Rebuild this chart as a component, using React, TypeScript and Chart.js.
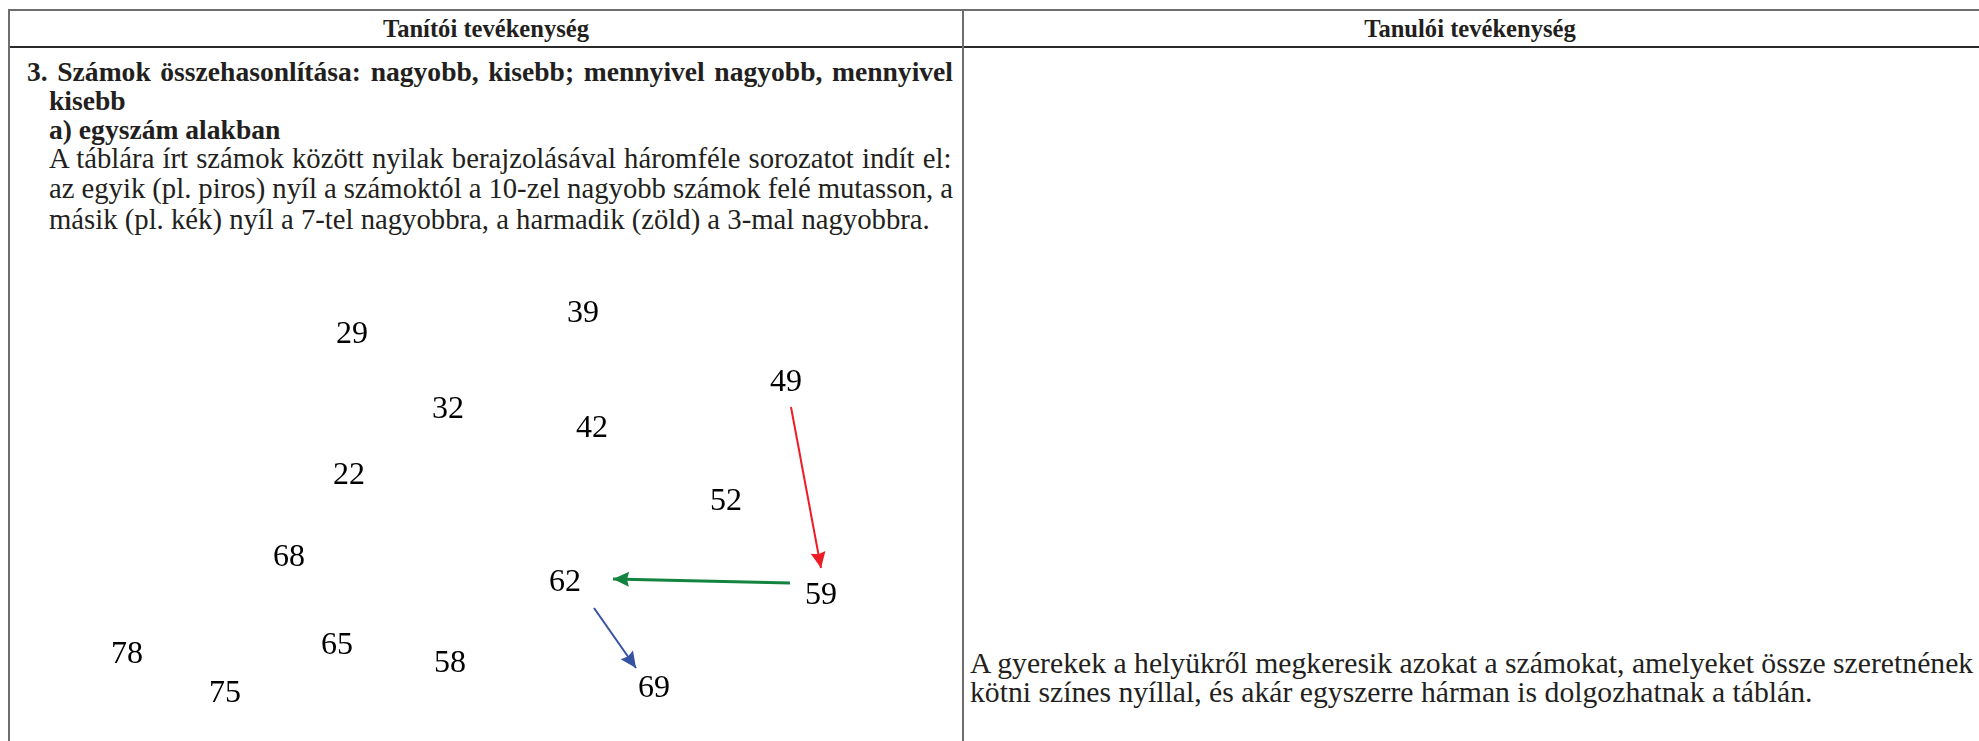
import React, { useEffect, useRef } from "react";
import { Chart, registerables } from "chart.js";

Chart.register(...registerables);

// ---- Data: numbers written on the board and where they sit (board units) ----
const boardNumbers = [29, 39, 49, 32, 42, 22, 52, 68, 62, 59, 78, 65, 58, 69, 75];
const boardX = [352, 583, 786, 448, 592, 349, 726, 289, 565, 821, 127, 337, 450, 654, 225];
const boardY = [333, 312, 381, 408, 427, 474, 500, 556, 581, 594, 653, 644, 662, 687, 692];

// ---- Arrows drawn between numbers (49 -> 59 red, 59 -> 62 green, 62 -> 69 blue) ----
const arrowNames = ["piros (+10)", "zöld (+3)", "kék (+7)"];
const arrowFromX = [791, 790, 594];
const arrowFromY = [407, 583, 608];
const arrowToX = [821, 613, 636];
const arrowToY = [568, 579, 668];
const arrowColors = ["#ee1c25", "#13843f", "#3552a3"];
const arrowWidths = [2, 3, 2];

// ---- Table texts ----
const headerLeft = "Tanítói tevékenység";
const headerRight = "Tanulói tevékenység";
const leftBold = [
  "3. Számok összehasonlítása: nagyobb, kisebb; mennyivel nagyobb, mennyivel",
  "kisebb",
  "a) egyszám alakban",
];
const leftNormal = [
  "A táblára írt számok között nyilak berajzolásával háromféle sorozatot indít el:",
  "az egyik (pl. piros) nyíl a számoktól a 10-zel nagyobb számok felé mutasson, a",
  "másik (pl. kék) nyíl a 7-tel nagyobbra, a harmadik (zöld) a 3-mal nagyobbra.",
];
const rightNormal = [
  "A gyerekek a helyükről megkeresik azokat a számokat, amelyeket össze szeretnének",
  "kötni színes nyíllal, és akár egyszerre hárman is dolgozhatnak a táblán.",
];

const FAMILY = "'Liberation Serif', 'Times New Roman', serif";
const TEXT_COLOR = "#231f20";

let measureCtx: CanvasRenderingContext2D | null = null;
function measure(text: string, weight: string, size: number): number {
  if (!measureCtx) measureCtx = document.createElement("canvas").getContext("2d");
  if (!measureCtx) return text.length * size * 0.45;
  measureCtx.font = `${weight} ${size}px ${FAMILY}`;
  return measureCtx.measureText(text).width;
}
function fitSize(text: string, weight: string, target: number): number {
  return (100 * target) / measure(text, weight, 100);
}
function justify(text: string, weight: string, size: number, target: number): number {
  const spaces = (text.match(/ /g) || []).length;
  if (!spaces) return 0;
  return (target - measure(text, weight, size)) / spaces;
}

function Line(props: {
  text: string;
  x: number;
  baseline: number;
  size: number;
  bold?: boolean;
  center?: boolean;
  wordSpacing?: number;
}) {
  const { text, x, baseline, size, bold, center, wordSpacing } = props;
  return (
    <div
      style={{
        position: "absolute",
        left: x,
        top: baseline - 0.8375 * size,
        fontSize: size,
        lineHeight: `${size}px`,
        fontFamily: FAMILY,
        fontWeight: bold ? 700 : 400,
        color: TEXT_COLOR,
        whiteSpace: "pre",
        wordSpacing: wordSpacing ? `${wordSpacing}px` : undefined,
        transform: center ? "translateX(-50%)" : undefined,
      }}
    >
      {text}
    </div>
  );
}

const boardPlugin = {
  id: "boardPlugin",
  afterDatasetsDraw(chart: any) {
    const ctx = chart.ctx as CanvasRenderingContext2D;
    // arrow heads
    for (let d = 1; d < chart.data.datasets.length; d++) {
      const meta = chart.getDatasetMeta(d);
      const pts = meta.data;
      if (!pts || pts.length < 2) continue;
      const a = pts[0];
      const b = pts[pts.length - 1];
      const ang = Math.atan2(b.y - a.y, b.x - a.x);
      const color = chart.data.datasets[d].borderColor;
      ctx.save();
      ctx.translate(b.x, b.y);
      ctx.rotate(ang);
      ctx.beginPath();
      ctx.moveTo(0, 0);
      ctx.lineTo(-16, 7.5);
      ctx.lineTo(-14, 0);
      ctx.lineTo(-16, -7.5);
      ctx.closePath();
      ctx.fillStyle = color;
      ctx.fill();
      ctx.restore();
    }
    // number labels
    const meta0 = chart.getDatasetMeta(0);
    ctx.save();
    ctx.font = `32px ${FAMILY}`;
    ctx.fillStyle = "#000";
    ctx.textAlign = "center";
    ctx.textBaseline = "alphabetic";
    meta0.data.forEach((el: any, i: number) => {
      ctx.fillText(String(boardNumbers[i]), el.x, el.y + 10);
    });
    ctx.restore();
  },
};

export default function App() {
  const ref = useRef<HTMLCanvasElement>(null);

  useEffect(() => {
    if (!ref.current) return;
    const datasets: any[] = [
      {
        label: "számok",
        data: boardNumbers.map((_, i) => ({ x: boardX[i], y: boardY[i] })),
        pointRadius: 0,
        pointHoverRadius: 0,
        showLine: false,
      },
    ];
    arrowNames.forEach((name, i) => {
      datasets.push({
        label: name,
        data: [
          { x: arrowFromX[i], y: arrowFromY[i] },
          { x: arrowToX[i], y: arrowToY[i] },
        ],
        showLine: true,
        borderColor: arrowColors[i],
        backgroundColor: arrowColors[i],
        borderWidth: arrowWidths[i],
        pointRadius: 0,
        pointHoverRadius: 0,
        fill: false,
      });
    });
    const chart = new Chart(ref.current, {
      type: "scatter",
      data: { datasets },
      options: {
        animation: false,
        responsive: false,
        events: [],
        layout: { padding: 0 },
        plugins: {
          legend: { display: false },
          tooltip: { enabled: false },
          title: { display: false },
        },
        scales: {
          x: { type: "linear", min: 0, max: 1979, display: false },
          y: { type: "linear", min: 0, max: 741, reverse: true, display: false },
        },
      },
      plugins: [boardPlugin],
    });
    return () => chart.destroy();
  }, []);

  const firstX = 27;
  const indentX = 49;
  const rightEdge = 953;
  const rightX = 970;
  const rightCellEdge = 1975;

  const headSize = fitSize(headerLeft, "700", 206);
  const boldSize = fitSize(leftBold[0], "700", rightEdge - firstX) * 0.98;
  const boldWs = justify(leftBold[0], "700", boldSize, rightEdge - firstX);
  const normSize = fitSize(leftNormal[2], "400", 930 - indentX);
  const normWs = [
    justify(leftNormal[0], "400", normSize, rightEdge - indentX),
    justify(leftNormal[1], "400", normSize, rightEdge - indentX),
    0,
  ];
  const rightSize = fitSize(rightNormal[0], "400", rightCellEdge - rightX);

  const leftBaselines = [81, 110, 139];
  const normBaselines = [168, 198, 229];
  const rightBaselines = [674, 703];

  return (
    <div
      style={{
        position: "absolute",
        left: 0,
        top: 0,
        width: 1979,
        height: 741,
        overflow: "hidden",
        background: "#ffffff",
      }}
    >
      {/* table rules */}
      <div style={{ position: "absolute", left: 8, right: 0, top: 9, height: 2, background: "#6e6e6e" }} />
      <div style={{ position: "absolute", left: 8, right: 0, top: 46, height: 2, background: "#2a2a2a" }} />
      <div style={{ position: "absolute", left: 8, width: 2, top: 9, bottom: 0, background: "#6e6e6e" }} />
      <div style={{ position: "absolute", left: 962, width: 2, top: 9, bottom: 0, background: "#6e6e6e" }} />

      <Line text={headerLeft} x={486} baseline={38} size={headSize} bold center />
      <Line text={headerRight} x={1470} baseline={38} size={headSize} bold center />

      <Line text={leftBold[0]} x={firstX} baseline={leftBaselines[0]} size={boldSize} bold wordSpacing={boldWs} />
      <Line text={leftBold[1]} x={indentX} baseline={leftBaselines[1]} size={boldSize} bold />
      <Line text={leftBold[2]} x={indentX} baseline={leftBaselines[2]} size={boldSize} bold />

      {leftNormal.map((t, i) => (
        <Line key={i} text={t} x={indentX} baseline={normBaselines[i]} size={normSize} wordSpacing={normWs[i]} />
      ))}
      {rightNormal.map((t, i) => (
        <Line key={i} text={t} x={rightX} baseline={rightBaselines[i]} size={rightSize} />
      ))}

      <canvas
        ref={ref}
        width={1979}
        height={741}
        style={{ position: "absolute", left: 0, top: 0, width: 1979, height: 741 }}
      />
    </div>
  );
}
